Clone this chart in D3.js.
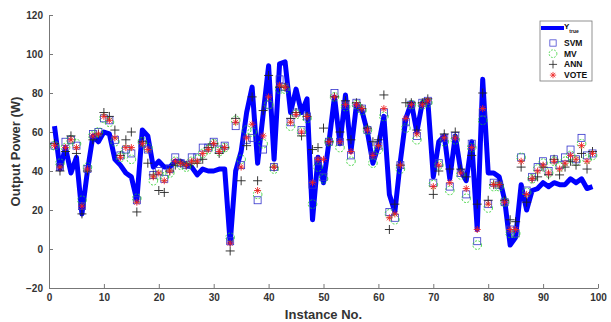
<!DOCTYPE html>
<html>
<head>
<meta charset="utf-8">
<script src="https://cdn.jsdelivr.net/npm/d3@7"></script>
<style>
  body { margin: 0; background: #fff; }
  text { font-family: Arial, "Liberation Sans", sans-serif; }
</style>
</head>
<body>
<svg width="611" height="322"></svg>
<script>
// instance numbers 1..99
var instances = d3.range(1, 100);

var yTrue = [63, 41, 52, 39, 47, 18, 40, 58, 55, 60,
  59, 46, 43, 39, 37, 25, 61, 58, 42, 45,
  42, 42, 45, 45, 43, 42, 38, 41, 40, 40,
  41, 41, 3, 40, 50, 70, 83, 44, 69, 94,
  46, 95, 96, 70, 82, 70, 77, 15, 47, 34,
  55, 78, 54, 79, 50, 74, 71, 60, 44, 53,
  68, 28, 19, 45, 67, 75, 60, 75, 76, 37,
  55, 58, 36, 58, 40, 35, 55, 10, 87, 39,
  39, 37, 25, 2, 6, 33, 20, 30, 31, 34,
  32, 34, 33, 33, 36, 34, 36, 31, 32];

var svm = [53, 42, 55, 56, 53, 22, 41, 59, 60, 67,
  66, 56, 48, 51, 49, 25, 54, 51, 38, 40,
  36, 41, 47, 44, 43, 47, 47, 52, 52, 55,
  51, 53, 4, 63, 43, 56, 57, 25, 51, 74,
  42, 87, 83, 65, 70, 61, 68, 33, 45, 37,
  55, 80, 55, 74, 48, 75, 72, 61, 48, 53,
  70, 19, 16, 43, 65, 74, 58, 75, 76, 34,
  44, 57, 32, 58, 39, 28, 54, 4, 70, 23,
  34, 33, 24, 10, 8, 47, 30, 37, 42, 45,
  40, 46, 43, 47, 51, 46, 57, 48, 49];

var mv = [53, 44, 52, 56, 54, 25, 42, 58, 60, 67,
  65, 55, 47, 51, 46, 26, 55, 52, 35, 38,
  37, 39, 45, 43, 42, 45, 46, 49, 51, 54,
  50, 52, 6, 66, 46, 61, 60, 28, 54, 74,
  41, 82, 82, 63, 69, 60, 67, 23, 42, 36,
  55, 78, 52, 73, 45, 74, 71, 61, 44, 51,
  68, 18, 15, 41, 62, 74, 56, 74, 75, 33,
  43, 55, 30, 56, 38, 26, 52, 2, 66, 21,
  32, 32, 24, 8, 8, 47, 29, 36, 41, 44,
  39, 45, 42, 45, 48, 45, 54, 46, 48];

var ann = [54, 40, 50, 58, 49, 18, 40, 56, 59, 70,
  68, 61, 48, 56, 60, 19, 55, 44, 38, 30,
  29, 40, 43, 44, 43, 44, 44, 46, 52, 54,
  49, 52, -1, 67, 35, 53, 78, 35, 71, 89,
  42, 83, 83, 67, 70, 58, 68, 51, 52, 62,
  55, 78, 60, 76, 56, 75, 72, 62, 55, 56,
  79, 10, 23, 43, 75, 75, 61, 75, 77, 28,
  40, 59, 41, 60, 41, 37, 48, 23, 80, 25,
  33, 33, 25, 15, 14, 42, 24, 36, 37, 42,
  38, 46, 38, 42, 45, 43, 49, 41, 50];

var vote = [53, 42, 52, 56, 52, 22, 41, 58, 59, 68,
  66, 57, 47, 52, 52, 24, 54, 51, 37, 39,
  35, 40, 45, 44, 43, 45, 45, 49, 51, 54,
  50, 52, 3, 65, 42, 57, 64, 30, 58, 78,
  42, 84, 83, 65, 69, 60, 68, 34, 46, 46,
  55, 78, 55, 74, 50, 74, 72, 61, 48, 53,
  72, 16, 18, 43, 67, 74, 59, 74, 76, 32,
  43, 57, 34, 57, 39, 31, 52, 10, 72, 23,
  33, 33, 24, 10, 10, 45, 28, 36, 40, 43,
  39, 45, 41, 44, 48, 46, 53, 45, 49];

var xTicks = [0, 10, 20, 30, 40, 50, 60, 70, 80, 90, 100];
var yTicks = [-20, 0, 20, 40, 60, 80, 100, 120];

var margin = { top: 15, right: 13, bottom: 34, left: 49 },
  width = 611 - margin.left - margin.right,
  height = 322 - margin.top - margin.bottom;

var svg = d3.select("svg")
  .append("g")
  .attr("transform", "translate(" + margin.left + "," + margin.top + ")");

var x = d3.scaleLinear().domain([0, 100]).range([0, width]);
var y = d3.scaleLinear().domain([-20, 120]).range([height, 0]);

// axes, MATLAB style ticks pointing inwards
var xAxis = svg.append("g")
  .attr("transform", "translate(0," + height + ")")
  .call(d3.axisBottom(x).tickValues(xTicks).tickSizeInner(-4).tickSizeOuter(0).tickPadding(6));
var yAxis = svg.append("g")
  .call(d3.axisLeft(y).tickValues(yTicks).tickSizeInner(-4).tickSizeOuter(0).tickPadding(6));

[xAxis, yAxis].forEach(function (a) {
  a.select(".domain").attr("stroke", "#777");
  a.selectAll(".tick line").attr("stroke", "#777");
  a.selectAll(".tick text")
    .attr("fill", "#333")
    .style("font-size", "10px")
    .style("font-weight", "bold");
});

// true output line
var line = d3.line()
  .x(function (d, i) { return x(instances[i]); })
  .y(function (d) { return y(d); });

svg.append("path")
  .datum(yTrue)
  .attr("fill", "none")
  .attr("stroke", "#0000ff")
  .attr("stroke-width", 5)
  .attr("stroke-linejoin", "round")
  .attr("d", line);

// marker shapes
function square(g) {
  g.append("rect").attr("x", -3.5).attr("y", -3.5).attr("width", 7).attr("height", 7)
    .attr("fill", "none").attr("stroke", "#3333cc").attr("stroke-width", 0.8);
}
function circle(g) {
  g.append("circle").attr("r", 4.3)
    .attr("fill", "none").attr("stroke", "#22cc22").attr("stroke-width", 0.8)
    .attr("stroke-dasharray", "2,1.5");
}
function plus(g) {
  g.append("path").attr("d", "M-4.5,0H4.5M0,-4.5V4.5")
    .attr("stroke", "#222").attr("stroke-width", 0.9);
}
function star(g) {
  g.append("path").attr("d", "M-3.5,0H3.5M0,-3.5V3.5M-2.5,-2.5L2.5,2.5M-2.5,2.5L2.5,-2.5")
    .attr("stroke", "#ee2222").attr("stroke-width", 0.9);
}

var series = [
  { name: "SVM", values: svm, draw: square },
  { name: "MV", values: mv, draw: circle },
  { name: "ANN", values: ann, draw: plus },
  { name: "VOTE", values: vote, draw: star }
];

series.forEach(function (s) {
  svg.append("g").selectAll("g")
    .data(s.values)
    .enter().append("g")
    .attr("transform", function (d, i) { return "translate(" + x(instances[i]) + "," + y(d) + ")"; })
    .each(function () { s.draw(d3.select(this)); });
});

// axis labels
svg.append("text")
  .attr("x", width / 2)
  .attr("y", height + 31)
  .attr("text-anchor", "middle")
  .style("font-size", "13px")
  .style("font-weight", "bold")
  .attr("fill", "#333")
  .text("Instance No.");

svg.append("text")
  .attr("transform", "translate(-29," + (height / 2) + ") rotate(-90)")
  .attr("text-anchor", "middle")
  .style("font-size", "13px")
  .style("font-weight", "bold")
  .attr("fill", "#333")
  .text("Output Power (W)");

// legend
var leg = svg.append("g").attr("transform", "translate(" + (540 - margin.left) + "," + (21 - margin.top) + ")");
leg.append("rect").attr("width", 52).attr("height", 60)
  .attr("fill", "#fff").attr("stroke", "#777").attr("stroke-width", 0.8);
leg.append("line").attr("x1", 1).attr("x2", 24).attr("y1", 7).attr("y2", 7)
  .attr("stroke", "#0000ff").attr("stroke-width", 4);
var yt = leg.append("text").attr("x", 24).attr("y", 8)
  .style("font-size", "8px").style("font-weight", "bold").attr("fill", "#111");
yt.append("tspan").text("Y");
yt.append("tspan").attr("dy", 4).style("font-size", "5px").text("true");

series.forEach(function (s, i) {
  var yy = 22 + i * 10.7;
  s.draw(leg.append("g").attr("transform", "translate(13," + yy + ") scale(0.9)"));
  leg.append("text").attr("x", 24).attr("y", yy + 3)
    .style("font-size", "8.5px").style("font-weight", "bold").attr("fill", "#111")
    .text(s.name);
});
</script>
</body>
</html>
